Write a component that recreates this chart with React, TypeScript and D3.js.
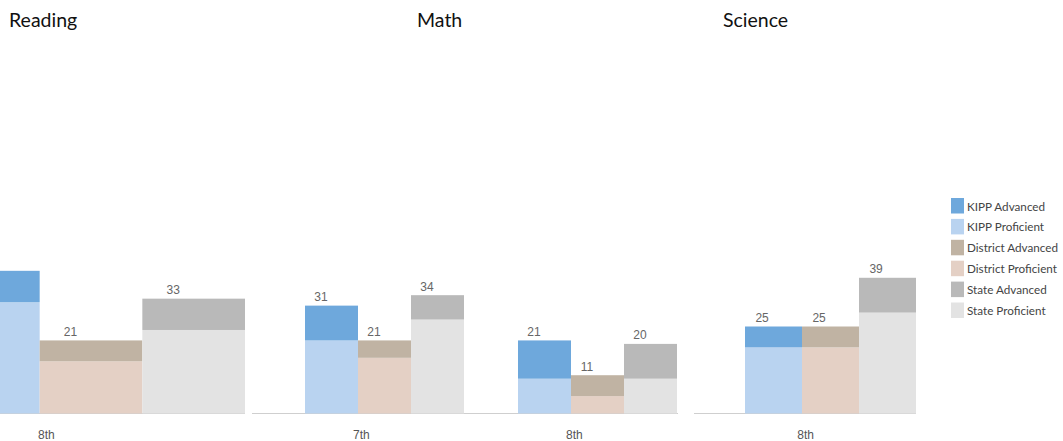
import React from "react";
import * as d3 from "d3";

// ---- data ----
const subjects = ["Reading", "Math", "Science"];
const gradesBySubject = [["8th"], ["7th", "8th"], ["8th"]];
// one entry per (subject, grade) in order: Reading 8th, Math 7th, Math 8th, Science 8th
const kippAdvanced = [9, 10, 11, 6];
const kippProficient = [32, 21, 10, 19];
const districtAdvanced = [6, 5, 6, 6];
const districtProficient = [15, 16, 5, 19];
const stateAdvanced = [9, 7, 10, 10];
const stateProficient = [24, 27, 10, 29];

const seriesNames = ["KIPP", "District", "State"];
const legendLabels = [
  "KIPP Advanced",
  "KIPP Proficient",
  "District Advanced",
  "District Proficient",
  "State Advanced",
  "State Proficient",
];
const legendColors = ["#6ea8dc", "#b9d3f0", "#c0b3a3", "#e4d0c5", "#b9b9b9", "#e3e3e3"];

// ---- layout ----
const W = 1063;
const H = 441;
const baseY = 413.5;
const panels = [
  { axis: [0, 245], band: [-63, 245], padInner: 0, titleX: 9 },
  { axis: [252, 678], band: [305, 677], padInner: 0.2535, titleX: 417 },
  { axis: [694, 916], band: [745, 916], padInner: 0, titleX: 723 },
];

const y = d3.scaleLinear().domain([0, 50]).range([baseY, baseY - 174]);

export default function App() {
  let idx = 0;
  const advArr = [kippAdvanced, districtAdvanced, stateAdvanced];
  const profArr = [kippProficient, districtProficient, stateProficient];
  return (
    <svg
      width={W}
      height={H}
      style={{ position: "absolute", left: 0, top: 0, background: "#fff" }}
    >
      <rect x={0} y={0} width={W} height={H} fill="#fff" />
      {subjects.map((subj, pi) => {
        const p = panels[pi];
        const grades = gradesBySubject[pi];
        const xg = d3
          .scaleBand<string>()
          .domain(grades)
          .range(p.band as [number, number])
          .paddingInner(p.padInner)
          .paddingOuter(0);
        const xs = d3.scaleBand<string>().domain(seriesNames).range([0, xg.bandwidth()]);
        return (
          <g key={subj}>
            <text
              x={p.titleX}
              y={27}
              fontFamily="Lato, 'Open Sans', sans-serif"
              fontSize={19.5}
              fill="#111"
            >
              {subj}
            </text>
            <line
              x1={p.axis[0]}
              x2={p.axis[1]}
              y1={baseY}
              y2={baseY}
              stroke="#cfcfcf"
              strokeWidth={1}
            />
            {grades.map((g) => {
              const i = idx++;
              const gx = xg(g)!;
              return (
                <g key={g}>
                  {seriesNames.map((s, si) => {
                    const prof = profArr[si][i];
                    const adv = advArr[si][i];
                    const total = prof + adv;
                    const bx = gx + xs(s)!;
                    const bw = xs.bandwidth();
                    const lx = bx + bw / 2 - 0.2 * bw;
                    return (
                      <g key={s}>
                        <rect
                          x={bx}
                          y={y(prof)}
                          width={bw}
                          height={y(0) - y(prof)}
                          fill={legendColors[si * 2 + 1]}
                        />
                        <rect
                          x={bx}
                          y={y(total)}
                          width={bw}
                          height={y(prof) - y(total)}
                          fill={legendColors[si * 2]}
                        />
                        {lx > 10 && (
                          <text
                            x={lx}
                            y={y(total) - 4.5}
                            textAnchor="middle"
                            fontFamily="'Liberation Sans', Arial, sans-serif"
                            fontSize={12}
                            fill="#666"
                          >
                            {total}
                          </text>
                        )}
                      </g>
                    );
                  })}
                  <text
                    x={gx + xg.bandwidth() / 2 - 0.145 * xg.bandwidth()}
                    y={438.5}
                    textAnchor="middle"
                    fontFamily="'Liberation Sans', Arial, sans-serif"
                    fontSize={12}
                    fill="#555"
                  >
                    {g}
                  </text>
                </g>
              );
            })}
          </g>
        );
      })}
      <g>
        {legendLabels.map((lab, li) => {
          const ly = 198 + li * 20.9;
          return (
            <g key={lab}>
              <rect x={951} y={ly} width={13} height={15.5} fill={legendColors[li]} />
              <text
                x={967}
                y={ly + 12.5}
                fontFamily="Lato, 'Open Sans', sans-serif"
                fontSize={11.7}
                fill="#444"
              >
                {lab}
              </text>
            </g>
          );
        })}
      </g>
    </svg>
  );
}
